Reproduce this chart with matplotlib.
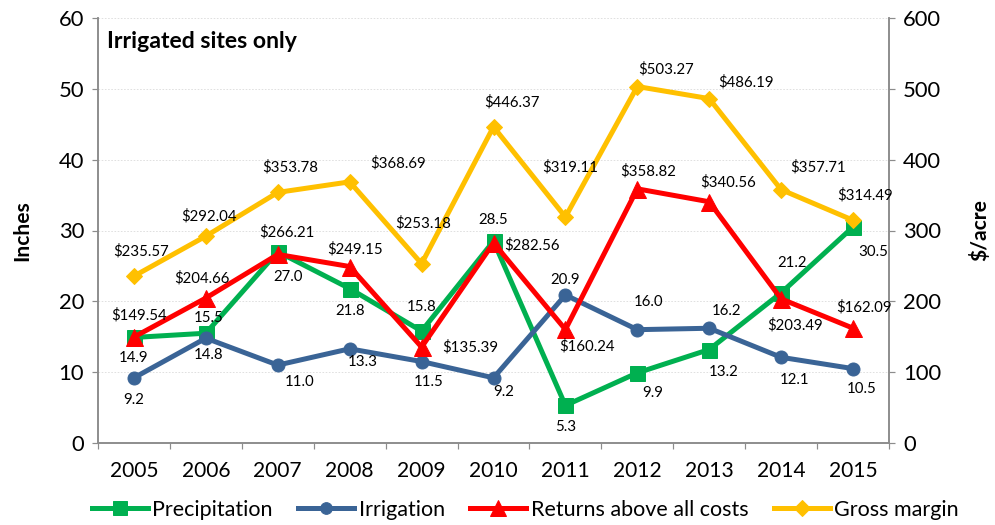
import matplotlib
matplotlib.use("Agg")
import matplotlib.pyplot as plt
import numpy as np

years = ["2005", "2006", "2007", "2008", "2009", "2010", "2011", "2012", "2013", "2014", "2015"]
precipitation = [14.9, 15.5, 27.0, 21.8, 15.8, 28.5, 5.3, 9.9, 13.2, 21.2, 30.5]
irrigation = [9.2, 14.8, 11.0, 13.3, 11.5, 9.2, 20.9, 16.0, 16.2, 12.1, 10.5]
returns = [149.54, 204.66, 266.21, 249.15, 135.39, 282.56, 160.24, 358.82, 340.56, 203.49, 162.09]
gross_margin = [235.57, 292.04, 353.78, 368.69, 253.18, 446.37, 319.11, 503.27, 486.19, 357.71, 314.49]

# label offsets (pixels / points at dpi 72)
off_precip = [(0, -21), (3, 15), (10, -25), (0, -22), (0, 24), (0, 21), (0, -22), (15, -20), (14, -23), (11, 30), (20, -25)]
off_irr = [(0, -22), (3, -17), (22, -17), (13, -13), (7, -20), (10, -14), (0, 15), (11, 28), (17, 17), (13, -23), (9, -20)]
off_ret = [(5, 22), (-4, 20), (9, 22), (5, 17), (49, 0), (38, -2), (22, -17), (11, 18), (19, 20), (14, -26), (11, 21)]
off_gm = [(7, 25), (3, 20), (12, 25), (48, 19), (2, 40), (18, 25), (5, 50), (29, 17), (37, 16), (37, 22), (12, 25)]

GREEN = "#00B050"
BLUE = "#3A6496"
RED = "#FF0000"
GOLD = "#FFC000"
GRAY = "#8C8C8C"

plt.rcParams['font.family'] = ['Lato', 'DejaVu Sans']

fig = plt.figure(figsize=(995 / 72, 525 / 72), dpi=72)
ax = fig.add_axes([98 / 995, 82 / 525, (889 - 98) / 995, (443 - 18) / 525])
ax2 = ax.twinx()

x = np.arange(len(years))

l1, = ax.plot(x, precipitation, color=GREEN, lw=5, marker='s', ms=15, zorder=3)
l2, = ax.plot(x, irrigation, color=BLUE, lw=5, marker='o', ms=13, zorder=4)
l3, = ax2.plot(x, returns, color=RED, lw=5, marker='^', ms=17, zorder=3)
l4, = ax2.plot(x, gross_margin, color=GOLD, lw=5, marker='D', ms=12, zorder=4)

lab_fs = 15
for xi, v, o in zip(x, precipitation, off_precip):
    ax.annotate(f"{v:.1f}", (xi, v), xytext=o, textcoords='offset points',
                ha='center', va='center', fontsize=lab_fs, zorder=6)
for xi, v, o in zip(x, irrigation, off_irr):
    ax.annotate(f"{v:.1f}", (xi, v), xytext=o, textcoords='offset points',
                ha='center', va='center', fontsize=lab_fs, zorder=6)
for xi, v, o in zip(x, returns, off_ret):
    ax2.annotate(f"${v:.2f}", (xi, v), xytext=o, textcoords='offset points',
                 ha='center', va='center', fontsize=lab_fs, zorder=6)
for xi, v, o in zip(x, gross_margin, off_gm):
    ax2.annotate(f"${v:.2f}", (xi, v), xytext=o, textcoords='offset points',
                 ha='center', va='center', fontsize=lab_fs, zorder=6)

ax.set_xlim(-0.5, len(years) - 0.5)
ax.set_ylim(0, 60)
ax2.set_ylim(0, 600)
ax.set_yticks(np.arange(0, 61, 10))
ax2.set_yticks(np.arange(0, 601, 100))

ax.set_xticks(np.arange(-0.5, len(years), 1.0))
ax.set_xticklabels([])
ax.set_xticks(x, minor=True)
ax.set_xticklabels(years, minor=True)
ax.tick_params(axis='x', which='major', direction='out', length=6, color=GRAY, width=1.2)
ax.tick_params(axis='x', which='minor', length=0, labelsize=21, pad=18)
ax.tick_params(axis='y', direction='out', length=6, color=GRAY, width=1.2, labelsize=22, pad=8)
ax2.tick_params(axis='y', direction='out', length=6, color=GRAY, width=1.2, labelsize=22, pad=8)

ax.grid(axis='y', color='#D9D9D9', linestyle=(0, (2, 2)), lw=0.8)
ax.set_axisbelow(True)

for a in (ax, ax2):
    a.spines['top'].set_visible(False)
    for s in ('left', 'right', 'bottom'):
        a.spines[s].set_color(GRAY)
        a.spines[s].set_linewidth(1.6)

ax.set_ylabel("Inches", fontsize=21, fontweight='bold', labelpad=26)
ax2.set_ylabel("$/acre", fontsize=21, fontweight='bold', labelpad=28)

fig.text(107 / 995, 1 - 42 / 525, "Irrigated sites only", fontsize=23, fontweight='bold',
         ha='left', va='center')

fig.legend([l1, l2, l3, l4], ["Precipitation", "Irrigation", "Returns above all costs", "Gross margin"],
           loc='center', bbox_to_anchor=(0.528, 1 - 510 / 525), ncol=4, frameon=False,
           fontsize=21.5, handlelength=2.6, handletextpad=0.2, columnspacing=1.2, markerscale=0.9)

fig.savefig("out.png", dpi=72)
